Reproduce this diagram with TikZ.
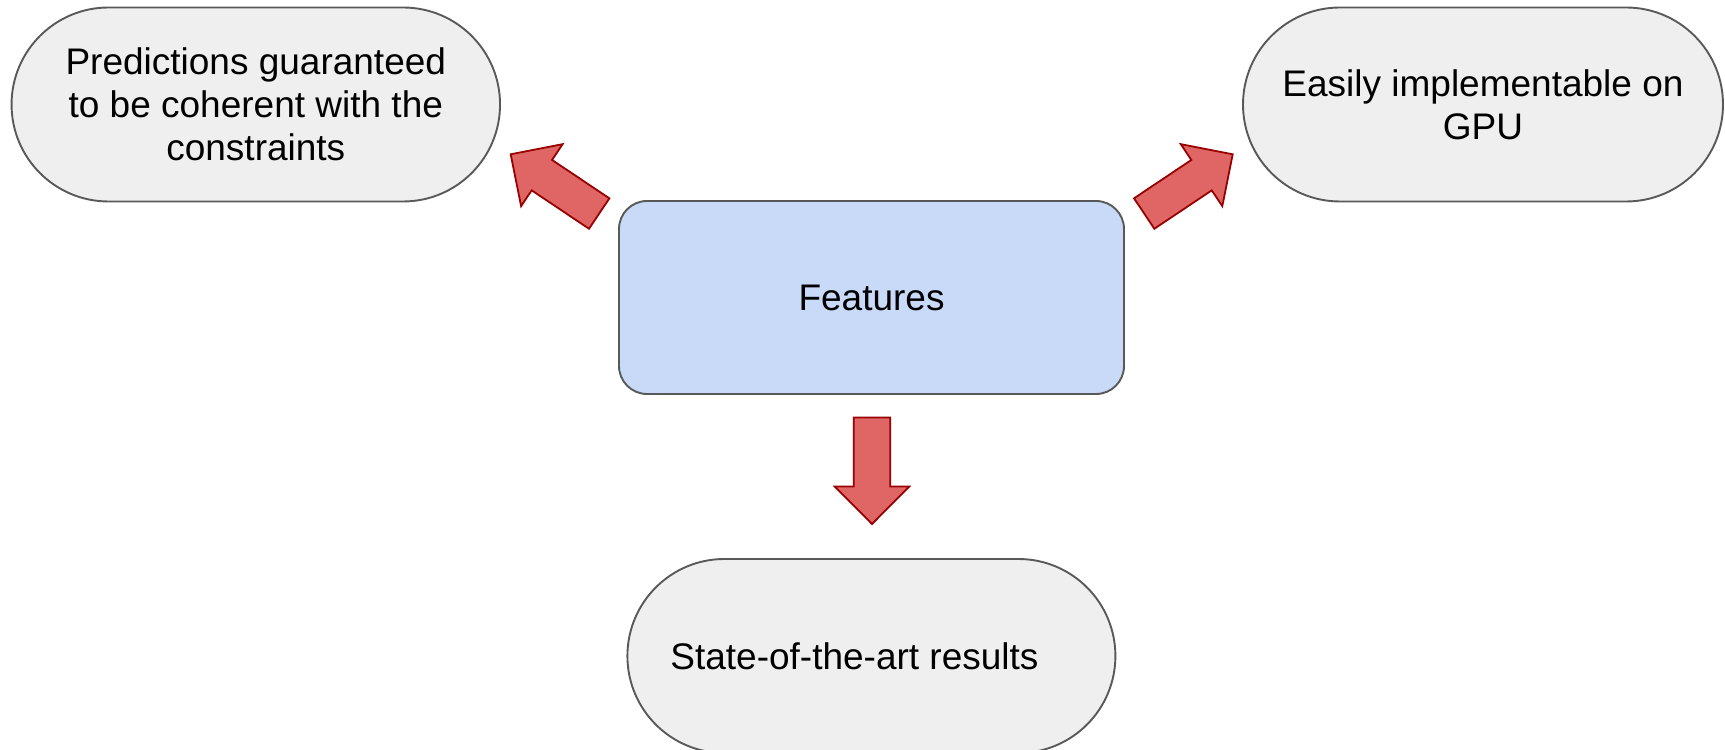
\documentclass[tikz,border=0pt]{standalone}
\usepackage{fontspec}
\setmainfont{Liberation Sans}
\usetikzlibrary{shapes.misc}
\definecolor{boxgray}{HTML}{EFEFEF}
\definecolor{boxline}{HTML}{595959}
\definecolor{featblue}{HTML}{C9DAF8}
\definecolor{arrowfill}{HTML}{E06666}
\definecolor{arrowline}{HTML}{990000}
\tikzset{
  pill/.style={rounded rectangle, draw=boxline, fill=boxgray, line width=1.9pt,
    minimum height=194pt, inner sep=0pt, align=center,
    font=\fontsize{37}{43}\selectfont},
  featbox/.style={rectangle, rounded corners=28pt, draw=boxline, fill=featblue,
    line width=1.9pt, minimum width=505pt, minimum height=193pt, inner sep=0pt,
    font=\fontsize{37}{43}\selectfont},
  arrowstyle/.style={draw=arrowline, fill=arrowfill, line width=1.8pt, line join=miter},
  blockarrow/.pic={
    \draw[arrowstyle] (0,0) -- (37.5,-37.3) -- (37.5,-18.3) -- (106.5,-18.3)
      -- (106.5,18.3) -- (37.5,18.3) -- (37.5,37.3) -- cycle;
  }
}
\begin{document}
\begin{tikzpicture}[x=1pt,y=1pt]
\useasboundingbox (0,0) rectangle (1725,750);
\node[pill, minimum width=488.5pt] (pred) at (255.8,645.5)
  {\raisebox{-2pt}{}Predictions guaranteed\\to be coherent with the\\constraints};
\node[pill, minimum width=480pt] (gpu) at (1483,645.5)
  {Easily implementable on\\GPU};
\node[featbox] (feat) at (871.5,452.5) {Features};
\node[pill, minimum width=488pt] (sota) at (871.4,94)
  {State-of-the-art results\hspace*{34pt}};
\pic[rotate=-33.8] (a1) at (510.7,595.7) {blockarrow};
\pic[rotate=213.8] (a2) at (1232.7,595.7) {blockarrow};
\pic[rotate=90] (a3) at (872,226) {blockarrow};
\end{tikzpicture}
\end{document}
